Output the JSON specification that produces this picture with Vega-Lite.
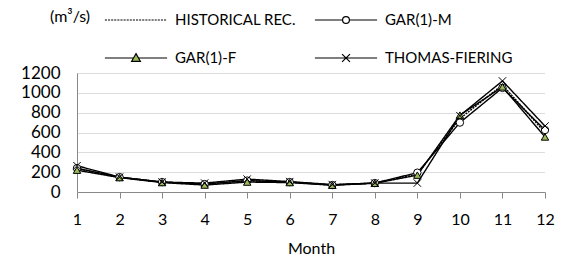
{
  "$schema": "https://vega.github.io/schema/vega-lite/v6.json",
  "autosize": "none",
  "width": 468,
  "height": 119,
  "padding": {"left": 77, "top": 73, "right": 24, "bottom": 66},
  "background": "white",
  "config": {
    "font": "Lato",
    "view": {"stroke": null},
    "axis": {"labelFont": "Lato", "titleFont": "Lato", "labelColor": "#000", "titleColor": "#000", "labelFontSize": 16, "titleFontSize": 16, "titleFontWeight": "normal"}
  },
  "data": {
    "values": [
      {"month": 1, "series": "HISTORICAL REC.", "value": 235},
      {"month": 2, "series": "HISTORICAL REC.", "value": 148},
      {"month": 3, "series": "HISTORICAL REC.", "value": 100},
      {"month": 4, "series": "HISTORICAL REC.", "value": 80},
      {"month": 5, "series": "HISTORICAL REC.", "value": 112},
      {"month": 6, "series": "HISTORICAL REC.", "value": 100},
      {"month": 7, "series": "HISTORICAL REC.", "value": 72},
      {"month": 8, "series": "HISTORICAL REC.", "value": 90},
      {"month": 9, "series": "HISTORICAL REC.", "value": 180},
      {"month": 10, "series": "HISTORICAL REC.", "value": 740},
      {"month": 11, "series": "HISTORICAL REC.", "value": 1080},
      {"month": 12, "series": "HISTORICAL REC.", "value": 600},
      {"month": 1, "series": "GAR(1)-M", "value": 240},
      {"month": 2, "series": "GAR(1)-M", "value": 150},
      {"month": 3, "series": "GAR(1)-M", "value": 100},
      {"month": 4, "series": "GAR(1)-M", "value": 80},
      {"month": 5, "series": "GAR(1)-M", "value": 115},
      {"month": 6, "series": "GAR(1)-M", "value": 100},
      {"month": 7, "series": "GAR(1)-M", "value": 70},
      {"month": 8, "series": "GAR(1)-M", "value": 90},
      {"month": 9, "series": "GAR(1)-M", "value": 195},
      {"month": 10, "series": "GAR(1)-M", "value": 700},
      {"month": 11, "series": "GAR(1)-M", "value": 1050},
      {"month": 12, "series": "GAR(1)-M", "value": 625},
      {"month": 1, "series": "GAR(1)-F", "value": 220},
      {"month": 2, "series": "GAR(1)-F", "value": 145},
      {"month": 3, "series": "GAR(1)-F", "value": 95},
      {"month": 4, "series": "GAR(1)-F", "value": 70},
      {"month": 5, "series": "GAR(1)-F", "value": 100},
      {"month": 6, "series": "GAR(1)-F", "value": 95},
      {"month": 7, "series": "GAR(1)-F", "value": 68},
      {"month": 8, "series": "GAR(1)-F", "value": 88},
      {"month": 9, "series": "GAR(1)-F", "value": 170},
      {"month": 10, "series": "GAR(1)-F", "value": 775},
      {"month": 11, "series": "GAR(1)-F", "value": 1060},
      {"month": 12, "series": "GAR(1)-F", "value": 555},
      {"month": 1, "series": "THOMAS-FIERING", "value": 265},
      {"month": 2, "series": "THOMAS-FIERING", "value": 150},
      {"month": 3, "series": "THOMAS-FIERING", "value": 100},
      {"month": 4, "series": "THOMAS-FIERING", "value": 90},
      {"month": 5, "series": "THOMAS-FIERING", "value": 130},
      {"month": 6, "series": "THOMAS-FIERING", "value": 105},
      {"month": 7, "series": "THOMAS-FIERING", "value": 75},
      {"month": 8, "series": "THOMAS-FIERING", "value": 90},
      {"month": 9, "series": "THOMAS-FIERING", "value": 90},
      {"month": 10, "series": "THOMAS-FIERING", "value": 770},
      {"month": 11, "series": "THOMAS-FIERING", "value": 1120},
      {"month": 12, "series": "THOMAS-FIERING", "value": 665}
    ]
  },
  "encoding": {
    "x": {
      "field": "month", "type": "quantitative",
      "scale": {"domain": [1, 12], "nice": false, "zero": false},
      "axis": {"title": "Month", "values": [1,2,3,4,5,6,7,8,9,10,11,12], "format": "d", "grid": false, "domainColor": "#888", "tickColor": "#888", "tickSize": 6, "labelPadding": 13, "titlePadding": 13, "labelFlush": false}
    },
    "y": {
      "field": "value", "type": "quantitative",
      "scale": {"domain": [0, 1200], "nice": false},
      "axis": {"title": null, "values": [0,200,400,600,800,1000,1200], "format": "d", "grid": true, "gridColor": "#bbb", "gridDash": [1, 1], "domainColor": "#888", "ticks": false, "labelPadding": 17, "labelFontSize": 17}
    }
  },
  "layer": [
    {
      "mark": {"type": "line", "color": "black", "strokeWidth": 1.4},
      "encoding": {
        "detail": {"field": "series"},
        "strokeDash": {
          "field": "series", "type": "nominal",
          "scale": {"domain": ["HISTORICAL REC.", "GAR(1)-M", "GAR(1)-F", "THOMAS-FIERING"], "range": [[2, 1], [1, 0], [1, 0], [1, 0]]},
          "legend": null
        }
      }
    },
    {
      "transform": [{"filter": {"field": "series", "oneOf": ["GAR(1)-M", "GAR(1)-F", "THOMAS-FIERING"]}}],
      "mark": {"type": "point", "stroke": "black", "strokeWidth": 1, "opacity": 1, "size": 55},
      "encoding": {
        "shape": {
          "field": "series", "type": "nominal",
          "scale": {"domain": ["GAR(1)-M", "GAR(1)-F", "THOMAS-FIERING"], "range": ["circle", "triangle-up", "M-1,-1L1,1M-1,1L1,-1"]},
          "legend": null
        },
        "fill": {
          "field": "series", "type": "nominal",
          "scale": {"domain": ["GAR(1)-M", "GAR(1)-F", "THOMAS-FIERING"], "range": ["white", "#9bbb59", "transparent"]},
          "legend": null
        }
      }
    },
    {
      "transform": [{"filter": {"field": "month", "gt": 100}}],
      "mark": {"type": "point", "filled": true, "stroke": "black", "strokeWidth": 1.2, "opacity": 1, "size": 430},
      "encoding": {
        "shape": {
          "field": "series", "type": "nominal", "title": "(m³/s)",
          "scale": {
            "domain": ["HISTORICAL REC.", "GAR(1)-M", "GAR(1)-F", "THOMAS-FIERING"],
            "range": [
              "M-3,0H-2.8M-2.7,0H-2.5M-2.4,0H-2.2M-2.1,0H-1.9M-1.8,0H-1.6M-1.5,0H-1.3M-1.2,0H-1M-0.9,0H-0.7M-0.6,0H-0.4M-0.3,0H-0.1M0,0H0.2M0.3,0H0.5M0.6,0H0.8M0.9,0H1.1M1.2,0H1.4M1.5,0H1.7M1.8,0H2M2.1,0H2.3M2.4,0H2.6M2.7,0H2.9",
              "M-3,0H-0.33M0.33,0H3M-0.33,0A0.33,0.33 0 1,0 0.33,0A0.33,0.33 0 1,0 -0.33,0Z",
              "M-3,0H-0.24M0.24,0H3M0,-0.42L0.42,0.32L-0.42,0.32Z",
              "M-3,0H3M-0.38,-0.38L0.38,0.38M-0.38,0.38L0.38,-0.38"
            ]
          },
          "legend": {
            "orient": "none", "legendX": -27, "legendY": -64,
            "direction": "horizontal", "columns": 2,
            "titleOrient": "left", "titleAnchor": "start", "titleBaseline": "top", "titleFontSize": 16, "titleFontWeight": "normal", "titleFont": "Lato", "titleColor": "#000", "titlePadding": 13,
            "labelFontSize": 15, "labelFont": "Lato", "labelColor": "#000", "labelOffset": 28, "labelLimit": 300,
            "symbolOffset": 21, "symbolSize": 430, "symbolStrokeColor": "black", "symbolStrokeWidth": 1.2,
            "columnPadding": 16, "rowPadding": 19
          }
        },
        "color": {
          "field": "series", "type": "nominal", "title": "(m³/s)",
          "scale": {"domain": ["HISTORICAL REC.", "GAR(1)-M", "GAR(1)-F", "THOMAS-FIERING"], "range": ["transparent", "white", "#9bbb59", "transparent"]}
        }
      }
    }
  ],
  "resolve": {"scale": {"shape": "independent", "color": "independent", "fill": "independent"}}
}
